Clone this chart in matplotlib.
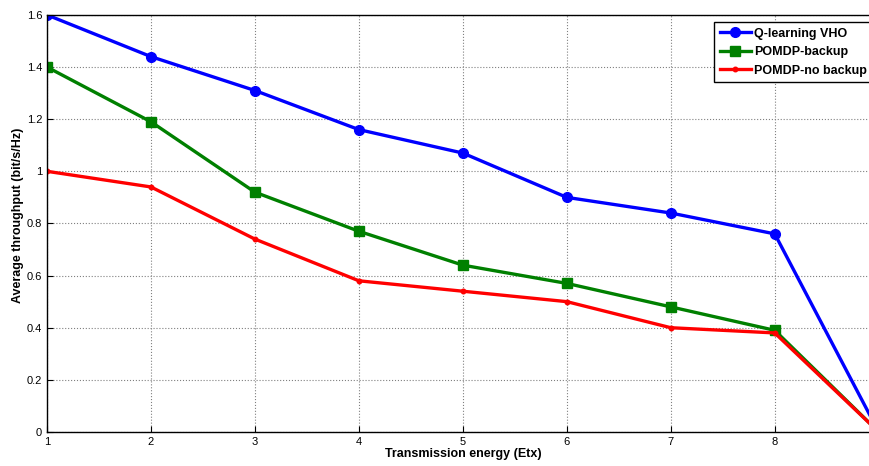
import matplotlib
matplotlib.use("Agg")
import matplotlib.pyplot as plt
from matplotlib.ticker import FormatStrFormatter

energy = [1, 2, 3, 4, 5, 6, 7, 8, 9]
q_learning = [1.60, 1.44, 1.31, 1.16, 1.07, 0.90, 0.84, 0.76, 0.0]
pomdp_backup = [1.40, 1.19, 0.92, 0.77, 0.64, 0.57, 0.48, 0.39, 0.0]
pomdp_no_backup = [1.00, 0.94, 0.74, 0.58, 0.54, 0.50, 0.40, 0.38, 0.0]

plt.rcParams['font.family'] = ['Liberation Sans', 'DejaVu Sans']

fig = plt.figure(figsize=(8.7, 4.66), dpi=100)
# the original is cropped on the right, so the axes run past the figure edge
ax = fig.add_axes([0.054, 0.073, 0.956, 0.895])

ax.plot(energy, q_learning, color='blue', lw=2.4, marker='o', ms=7, label='Q-learning VHO')
ax.plot(energy, pomdp_backup, color='green', lw=2.4, marker='s', ms=6.5, label='POMDP-backup')
ax.plot(energy, pomdp_no_backup, color='red', lw=2.4, marker='.', ms=6.5, label='POMDP-no backup')

ax.set_xlim(1, 9)
ax.set_ylim(0, 1.6)
# tick 9 sits past the cropped edge, like in the original
ax.set_xticks(energy[:-1])
ax.set_yticks([0, 0.2, 0.4, 0.6, 0.8, 1.0, 1.2, 1.4, 1.6])
ax.yaxis.set_major_formatter(FormatStrFormatter('%g'))
ax.tick_params(direction='in', labelsize=8, length=4, width=0.8)
ax.grid(True, color='#808080', linestyle=':', linewidth=0.8)
for s in ax.spines.values():
    s.set_linewidth(1.0)
    s.set_color('black')

ax.set_xlabel('Transmission energy (Etx)', fontsize=9, fontweight='bold', labelpad=1)
ax.set_ylabel('Average throughput (bit/s/Hz)', fontsize=9, fontweight='bold', labelpad=1)
ax.yaxis.set_label_coords(-0.028, 0.52)

leg = ax.legend(loc='upper left', bbox_to_anchor=(714 / 870, 1 - 22 / 466),
                bbox_transform=fig.transFigure,
                prop={'weight': 'bold', 'size': 9}, frameon=True, fancybox=False,
                handlelength=2.5, borderpad=0.45, labelspacing=0.52, handletextpad=0.25,
                borderaxespad=0)
leg.get_frame().set_edgecolor('black')
leg.get_frame().set_linewidth(1.0)
leg.get_frame().set_alpha(1)

fig.savefig('out.png', dpi=100)
